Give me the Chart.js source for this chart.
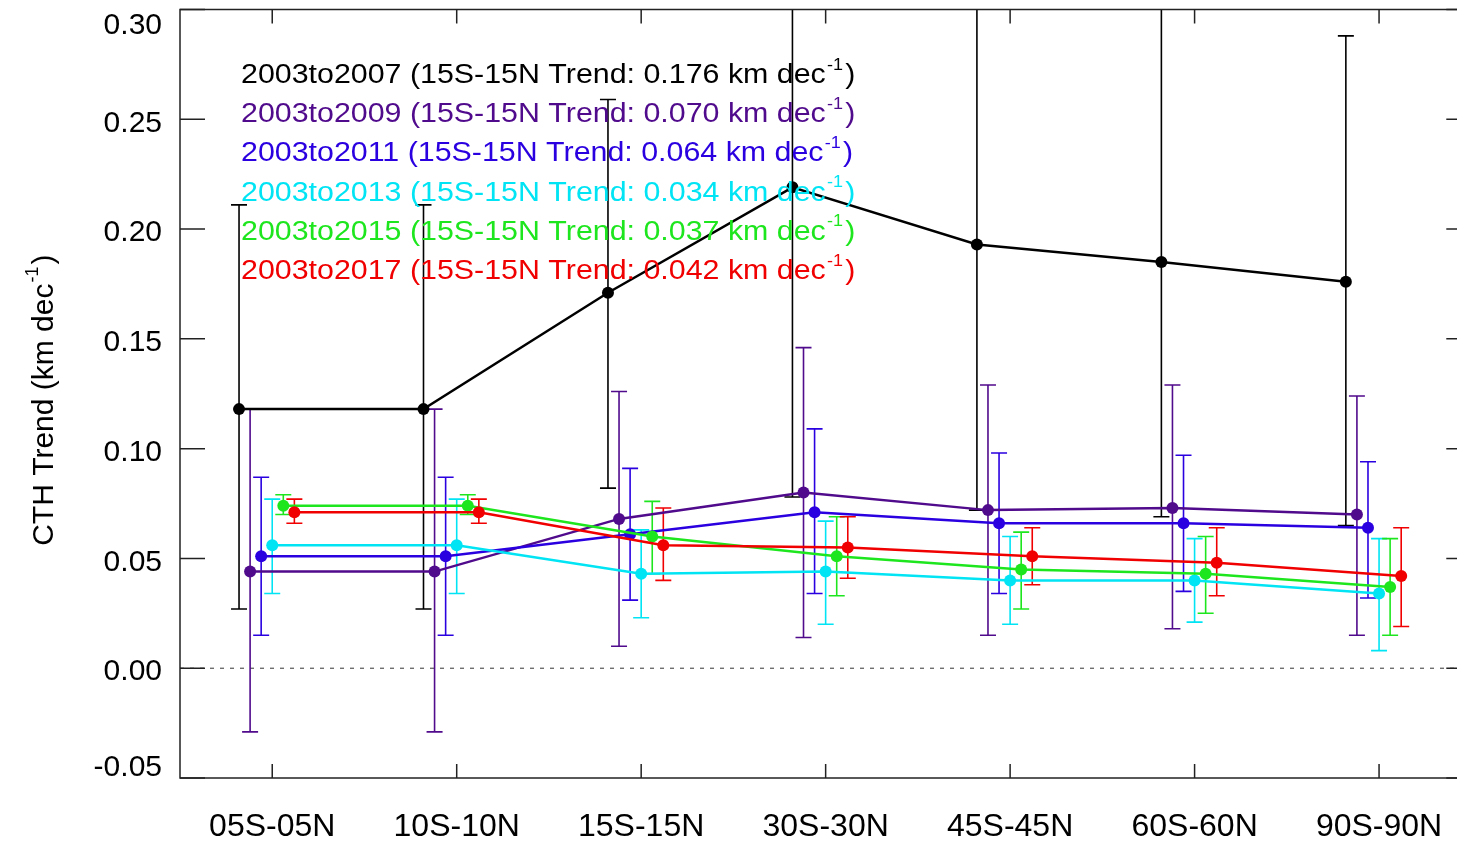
<!DOCTYPE html>
<html>
<head>
<meta charset="utf-8">
<title>CTH Trend</title>
<script src="https://cdn.jsdelivr.net/npm/chart.js@4/dist/chart.umd.min.js"></script>
<style>
    html, body { margin: 0; padding: 0; background: #fff; overflow: hidden; }
    #wrap { width: 1457px; height: 844px; }
</style>
</head>
<body>
<div id="wrap"><canvas id="trendChart" width="1457" height="844"></canvas></div>
<script>
const regions = ['05S-05N', '10S-10N', '15S-15N', '30S-30N', '45S-45N', '60S-60N', '90S-90N'];
const yTicks = [-0.05, 0.00, 0.05, 0.10, 0.15, 0.20, 0.25, 0.30];

const periods = ['2003to2007', '2003to2009', '2003to2011', '2003to2013', '2003to2015', '2003to2017'];
const colors = ['#000000', '#500a8c', '#2a00e0', '#00e4f4', '#1ee61e', '#f00000'];
// horizontal shift of each period inside a region (in category units)
const offsets = [-0.18, -0.12, -0.06, 0, 0.06, 0.12];

// trend and its lower / upper bounds, one value per region
const trend0307 = [0.118, 0.118, 0.171, 0.219, 0.193, 0.185, 0.176];
const low0307 = [0.027, 0.027, 0.082, 0.078, 0.072, 0.069, 0.065];
const high0307 = [0.211, 0.211, 0.259, 0.360, 0.350, 0.340, 0.288];

const trend0309 = [0.044, 0.044, 0.068, 0.080, 0.072, 0.073, 0.070];
const low0309 = [-0.029, -0.029, 0.010, 0.014, 0.015, 0.018, 0.015];
const high0309 = [0.118, 0.118, 0.126, 0.146, 0.129, 0.129, 0.124];

const trend0311 = [0.051, 0.051, 0.061, 0.071, 0.066, 0.066, 0.064];
const low0311 = [0.015, 0.015, 0.031, 0.034, 0.034, 0.035, 0.032];
const high0311 = [0.087, 0.087, 0.091, 0.109, 0.098, 0.097, 0.094];

const trend0313 = [0.056, 0.056, 0.043, 0.044, 0.040, 0.040, 0.034];
const low0313 = [0.034, 0.034, 0.023, 0.020, 0.020, 0.021, 0.008];
const high0313 = [0.077, 0.077, 0.063, 0.067, 0.060, 0.059, 0.059];

const trend0315 = [0.074, 0.074, 0.060, 0.051, 0.045, 0.043, 0.037];
const low0315 = [0.070, 0.070, 0.043, 0.033, 0.027, 0.025, 0.015];
const high0315 = [0.079, 0.079, 0.076, 0.069, 0.062, 0.060, 0.059];

const trend0317 = [0.071, 0.071, 0.056, 0.055, 0.051, 0.048, 0.042];
const low0317 = [0.066, 0.066, 0.040, 0.041, 0.038, 0.033, 0.019];
const high0317 = [0.077, 0.077, 0.073, 0.069, 0.064, 0.064, 0.064];

const trends = [trend0307, trend0309, trend0311, trend0313, trend0315, trend0317];
const lows = [low0307, low0309, low0311, low0313, low0315, low0317];
const highs = [high0307, high0309, high0311, high0313, high0315, high0317];

const FONT = '"Liberation Sans", Arial, Helvetica, sans-serif';
// the plot frame runs from -0.5 to 6.5; the canvas cuts it a little before its right edge
const X_FRAME_MAX = 6.5;
const X_VISIBLE_MAX = 6.39;

// writes "text" + superscript "-1" + ")" starting at x, returns end x
function drawWithSup(ctx, x, y, text, size) {
    ctx.font = size + 'px ' + FONT;
    ctx.fillText(text, x, y);
    x += ctx.measureText(text).width + 1;
    const supSize = Math.round(size * 0.6);
    ctx.font = supSize + 'px ' + FONT;
    ctx.fillText('-1', x, y - size * 0.5);
    x += ctx.measureText('-1').width + 2;
    ctx.font = size + 'px ' + FONT;
    ctx.fillText(')', x, y);
    return x + ctx.measureText(')').width;
}

const errorBars = {
    id: 'errorBars',
    beforeDatasetsDraw(chart) {
        const ctx = chart.ctx;
        const xs = chart.scales.x, ys = chart.scales.y;
        const area = chart.chartArea;
        const right = xs.getPixelForValue(X_FRAME_MAX);
        ctx.save();
        ctx.beginPath();
        ctx.rect(area.left, area.top, right - area.left, area.bottom - area.top);
        ctx.clip();

        // zero line
        ctx.strokeStyle = '#333';
        ctx.lineWidth = 1;
        ctx.setLineDash([4, 6]);
        ctx.beginPath();
        ctx.moveTo(area.left, ys.getPixelForValue(0));
        ctx.lineTo(right, ys.getPixelForValue(0));
        ctx.stroke();
        ctx.setLineDash([]);

        ctx.lineWidth = 1.6;
        periods.forEach((p, s) => {
            ctx.strokeStyle = colors[s];
            regions.forEach((r, i) => {
                const px = xs.getPixelForValue(i + offsets[s]);
                const top = ys.getPixelForValue(highs[s][i]);
                const bot = ys.getPixelForValue(lows[s][i]);
                ctx.beginPath();
                ctx.moveTo(px, top);
                ctx.lineTo(px, bot);
                ctx.moveTo(px - 8, top);
                ctx.lineTo(px + 8, top);
                ctx.moveTo(px - 8, bot);
                ctx.lineTo(px + 8, bot);
                ctx.stroke();
            });
        });
        ctx.restore();
    }
};

const frameAndLabels = {
    id: 'frameAndLabels',
    afterDraw(chart) {
        const ctx = chart.ctx;
        const xs = chart.scales.x, ys = chart.scales.y;
        const a = chart.chartArea;
        const right = xs.getPixelForValue(X_FRAME_MAX);
        ctx.save();

        // box and inward ticks
        ctx.strokeStyle = '#222';
        ctx.lineWidth = 1.5;
        ctx.strokeRect(a.left, a.top, right - a.left, a.bottom - a.top);
        ctx.beginPath();
        regions.forEach((r, i) => {
            const px = xs.getPixelForValue(i);
            ctx.moveTo(px, a.bottom);
            ctx.lineTo(px, a.bottom - 14);
            ctx.moveTo(px, a.top);
            ctx.lineTo(px, a.top + 14);
        });
        yTicks.forEach(v => {
            const py = ys.getPixelForValue(v);
            ctx.moveTo(a.left, py);
            ctx.lineTo(a.left + 25, py);
            ctx.moveTo(right, py);
            ctx.lineTo(right - 25, py);
        });
        ctx.stroke();

        // y tick labels
        ctx.fillStyle = '#000';
        ctx.font = '30px ' + FONT;
        ctx.textAlign = 'right';
        ctx.textBaseline = 'middle';
        yTicks.forEach((v, k) => {
            let py = ys.getPixelForValue(v) + 4;
            if (k === yTicks.length - 1) py += 12;
            if (k === 0) py -= 14;
            ctx.fillText(v.toFixed(2), a.left - 18, py);
        });

        // y axis title
        ctx.save();
        ctx.translate(53, 400);
        ctx.rotate(-Math.PI / 2);
        ctx.textAlign = 'left';
        ctx.textBaseline = 'alphabetic';
        ctx.font = '30px ' + FONT;
        const titleText = 'CTH Trend (km dec';
        const w = ctx.measureText(titleText).width + ctx.measureText('-1)').width * 0.8;
        drawWithSup(ctx, -w / 2, 0, titleText, 30);
        ctx.restore();

        // period labels with the 15S-15N trend
        ctx.textAlign = 'left';
        ctx.textBaseline = 'alphabetic';
        periods.forEach((p, s) => {
            const last = trends[s][trends[s].length - 1];
            ctx.save();
            ctx.translate(241, 83 + s * 39.2);
            ctx.scale(1.125, 1);
            ctx.fillStyle = colors[s];
            drawWithSup(ctx, 0, 0, p + ' (15S-15N Trend: ' + last.toFixed(3) + ' km dec', 27);
            ctx.restore();
        });
        ctx.restore();
    }
};

const datasets = periods.map((p, s) => ({
    label: p,
    data: trends[s].map((v, i) => ({ x: i + offsets[s], y: v })),
    borderColor: colors[s],
    backgroundColor: colors[s],
    borderWidth: 2.5,
    pointRadius: 6,
    pointBorderWidth: 0,
    pointHoverRadius: 6,
    tension: 0,
    clip: false,
    order: periods.length - s
}));

new Chart(document.getElementById('trendChart'), {
    type: 'line',
    data: { datasets: datasets },
    options: {
        responsive: false,
        animation: false,
        events: [],
        layout: { padding: { left: 0, right: 0, top: 9.5, bottom: 0 } },
        plugins: {
            legend: { display: false },
            tooltip: { enabled: false }
        },
        scales: {
            x: {
                type: 'linear',
                min: -0.5,
                max: X_VISIBLE_MAX,
                afterBuildTicks: axis => { axis.ticks = regions.map((r, i) => ({ value: i })); },
                afterFit: axis => {
                    axis.height = 66;
                    axis.paddingLeft = 0;
                    axis.paddingRight = 0;
                },
                grid: { display: false, drawTicks: false },
                border: { display: false },
                ticks: {
                    autoSkip: false,
                    maxRotation: 0,
                    padding: 30,
                    color: '#000',
                    font: { family: FONT, size: 32 },
                    callback: v => regions[v]
                }
            },
            y: {
                type: 'linear',
                min: -0.05,
                max: 0.30,
                afterBuildTicks: axis => { axis.ticks = yTicks.map(v => ({ value: v })); },
                afterFit: axis => { axis.width = 180; },
                grid: { display: false, drawTicks: false },
                border: { display: false },
                ticks: { display: false }
            }
        }
    },
    plugins: [errorBars, frameAndLabels]
});
</script>
</body>
</html>
